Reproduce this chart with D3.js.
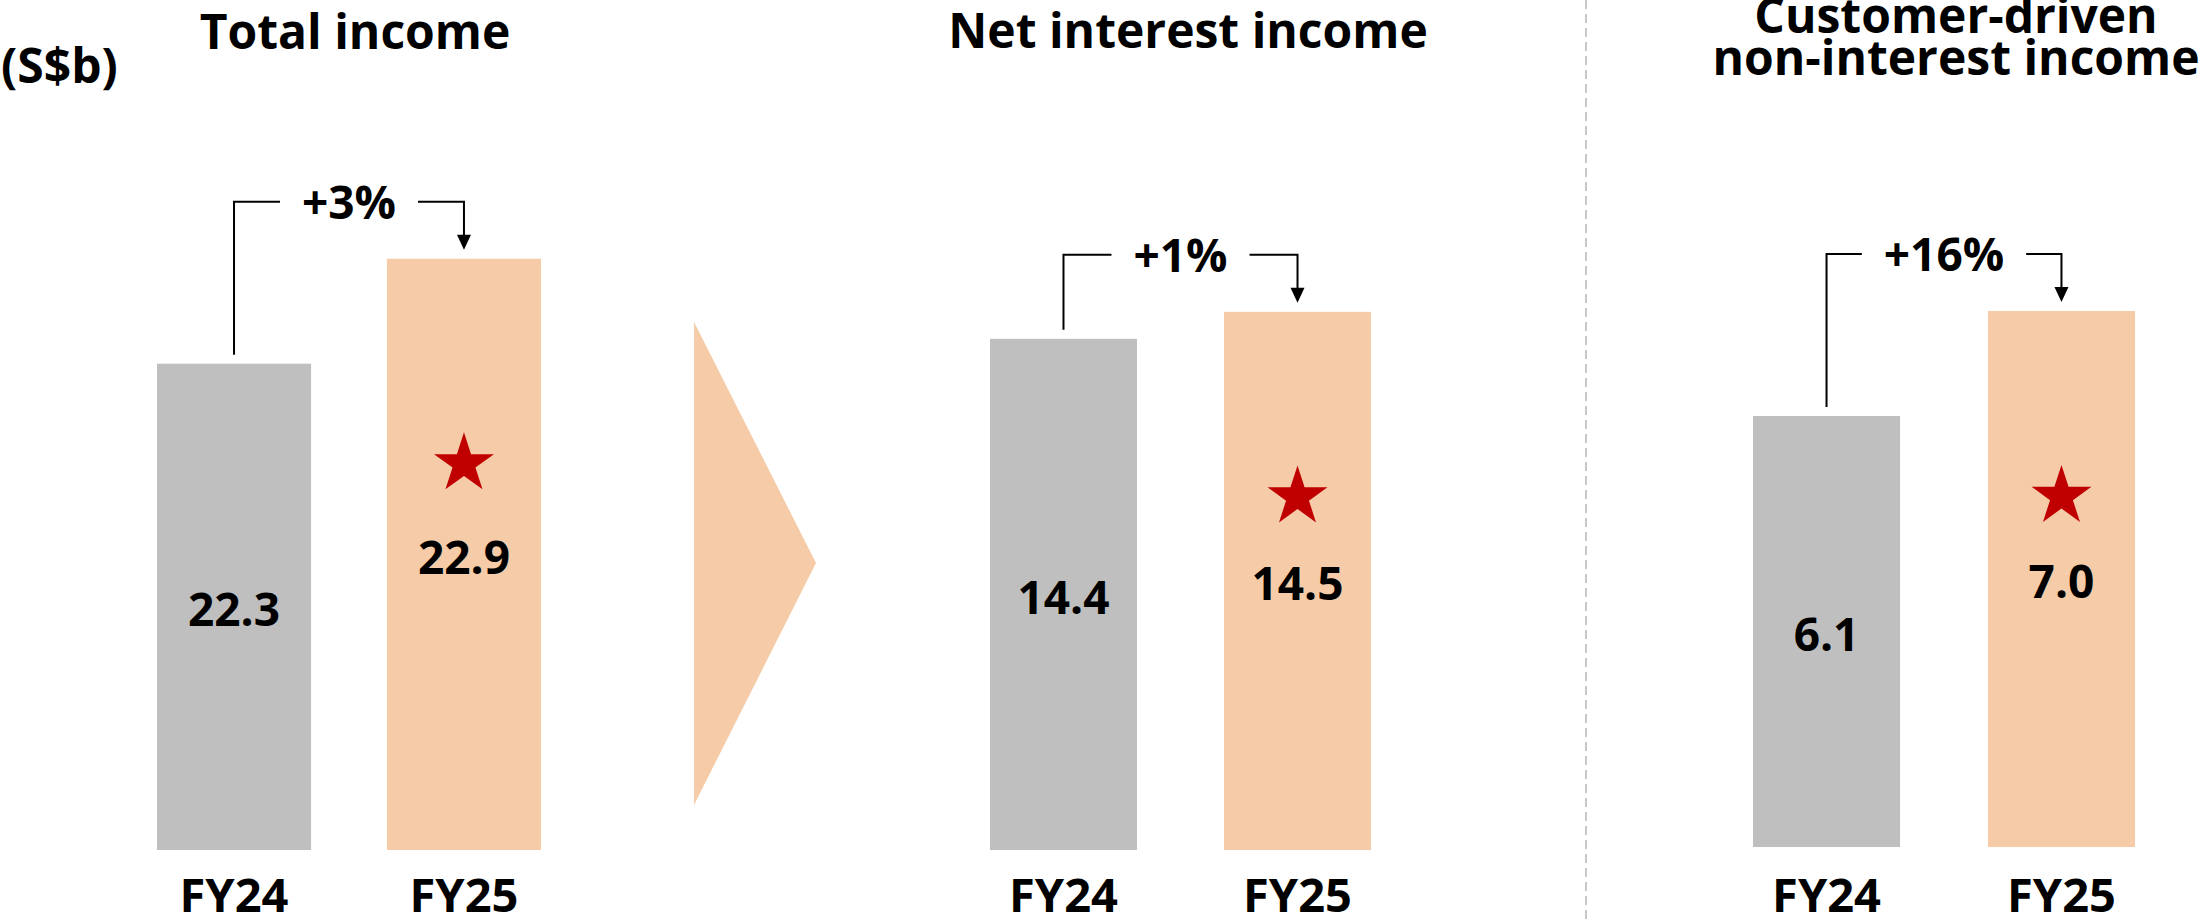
<!DOCTYPE html>
<html>
<head>
<meta charset="utf-8">
<script src="https://cdn.jsdelivr.net/npm/d3@7"></script>
<style>
  body { margin: 0; background: #fff; }
  text { font-family: "Open Sans", "Noto Sans", sans-serif; font-weight: bold; fill: #000; }
</style>
</head>
<body>
<div id="chart"></div>
<script>
var W = 2202, H = 923;

// data
var titles = [["Total income"], ["Net interest income"], ["Customer-driven", "non-interest income"]];
var categories = ["FY24", "FY25"];
var fy24 = [22.3, 14.4, 6.1];
var fy25 = [22.9, 14.5, 7.0];
var growth = ["+3%", "+1%", "+16%"];
var yDomains = [[19.52, 22.95], [12.507, 14.729], [2.407, 7.548]];
var unit = "(S$b)";

var grey = "#bfbfbf";
var peach = "#f5cca7";
var red = "#c00000";

// layout per panel
var panelX = [[157, 541], [990, 1371], [1753, 2135]];
var panelPad = [0.33, 0.372, 0.374];
var baseY = [850, 850, 847];
var titleX = [355, 1188, 1956];
var titleY = [49, 48, 33];
var starUp = [93, 86.5, 85];

var svg = d3.select("#chart").append("svg")
	.attr("width", W)
	.attr("height", H);

svg.append("rect")
	.attr("width", W)
	.attr("height", H)
	.attr("fill", "#fff");

svg.append("text")
	.attr("x", 1)
	.attr("y", 83)
	.style("font-size", "48px")
	.text(unit);

// chevron between first and second panel
svg.append("path")
	.attr("d", "M694,322 L816,563 L694,805 Z")
	.attr("fill", peach);

// dashed divider
svg.append("line")
	.attr("x1", 1586).attr("x2", 1586)
	.attr("y1", 0).attr("y2", H)
	.attr("stroke", "#c8c8c8")
	.attr("stroke-width", 2)
	.attr("stroke-dasharray", "9,5");

function drawPanel(i) {
	var g = svg.append("g");
	var x = d3.scaleBand()
		.domain(categories)
		.range(panelX[i])
		.paddingInner(panelPad[i])
		.paddingOuter(0);
	var y = d3.scaleLinear()
		.domain(yDomains[i])
		.range([baseY[i], baseY[i] - 600]);

	var vals = [fy24[i], fy25[i]];
	var rows = categories.map((c, k) => ({ cat: c, v: vals[k] }));

	// title
	var t = g.append("text")
		.attr("x", titleX[i])
		.attr("y", titleY[i])
		.attr("text-anchor", "middle")
		.style("font-size", "48px");
	titles[i].forEach((line, k) => {
		t.append("tspan")
			.attr("x", titleX[i])
			.attr("dy", k === 0 ? 0 : 42)
			.text(line);
	});

	g.selectAll("rect.bar")
		.data(rows)
		.enter()
		.append("rect")
		.attr("class", "bar")
		.attr("x", d => x(d.cat))
		.attr("y", d => y(d.v))
		.attr("width", x.bandwidth())
		.attr("height", d => baseY[i] - y(d.v))
		.attr("fill", (d, k) => k === 0 ? grey : peach);

	// values inside bars
	g.selectAll("text.val")
		.data(rows)
		.enter()
		.append("text")
		.attr("class", "val")
		.attr("x", d => x(d.cat) + x.bandwidth() / 2)
		.attr("y", d => (y(d.v) + baseY[i]) / 2 + 19.5)
		.attr("text-anchor", "middle")
		.style("font-size", "46px")
		.text(d => d.v.toFixed(1));

	// star on FY25
	var cx = x(categories[1]) + x.bandwidth() / 2;
	g.append("path")
		.attr("d", d3.symbol().type(d3.symbolStar).size(1114)())
		.attr("transform", "translate(" + cx + "," + ((y(vals[1]) + baseY[i]) / 2 + 2.5 - starUp[i]) + ")")
		.attr("fill", red);

	// category labels
	g.selectAll("text.cat")
		.data(categories)
		.enter()
		.append("text")
		.attr("class", "cat")
		.attr("x", d => x(d) + x.bandwidth() / 2)
		.attr("y", 912)
		.attr("text-anchor", "middle")
		.style("font-size", "47px")
		.text(d => d);

	// growth bracket
	var x1 = x(categories[0]) + x.bandwidth() / 2;
	var x2 = cx;
	var top = Math.min(y(vals[0]), y(vals[1]));
	var by = top - 57;
	var mid = (x1 + x2) / 2;
	var lbl = g.append("text")
		.attr("x", mid)
		.attr("y", by + 17)
		.attr("text-anchor", "middle")
		.style("font-size", "46px")
		.text(growth[i]);
	var half = lbl.node().getComputedTextLength() / 2 + 22;
	var tip = y(vals[1]) - 9;

	g.append("path")
		.attr("d", "M" + x1 + "," + (y(vals[0]) - 9) + " V" + by + " H" + (mid - half))
		.attr("fill", "none")
		.attr("stroke", "#000")
		.attr("stroke-width", 2);
	g.append("path")
		.attr("d", "M" + (mid + half) + "," + by + " H" + x2 + " V" + (tip - 12))
		.attr("fill", "none")
		.attr("stroke", "#000")
		.attr("stroke-width", 2);
	g.append("path")
		.attr("d", "M" + (x2 - 7) + "," + (tip - 15) + " L" + (x2 + 7) + "," + (tip - 15) + " L" + x2 + "," + tip + " Z")
		.attr("fill", "#000");
}

for (var i = 0; i < titles.length; i++) {
	drawPanel(i);
}
</script>
</body>
</html>
